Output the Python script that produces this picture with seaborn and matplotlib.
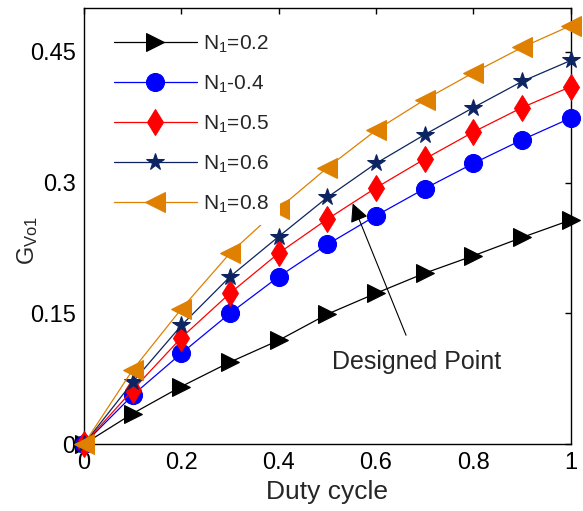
import numpy as np
import pandas as pd
import matplotlib
matplotlib.use("Agg")
import matplotlib.pyplot as plt
import seaborn as sns

# Values
duty = [0, 0.1, 0.2, 0.3, 0.4, 0.5, 0.6, 0.7, 0.8, 0.9, 1.0]
g_n02 = [0, 0.035, 0.066, 0.094, 0.119, 0.149, 0.173, 0.196, 0.216, 0.237, 0.257]
g_n04 = [0, 0.056, 0.104, 0.150, 0.192, 0.229, 0.262, 0.293, 0.322, 0.349, 0.374]
g_n05 = [0, 0.062, 0.122, 0.173, 0.219, 0.258, 0.294, 0.327, 0.358, 0.386, 0.410]
g_n06 = [0, 0.071, 0.136, 0.192, 0.238, 0.283, 0.322, 0.355, 0.386, 0.416, 0.440]
g_n08 = [0, 0.085, 0.155, 0.219, 0.270, 0.317, 0.360, 0.395, 0.426, 0.455, 0.480]
labels = ["N$_1$=0.2", "N$_1$-0.4", "N$_1$=0.5", "N$_1$=0.6", "N$_1$=0.8"]

x_ticks = [0, 0.2, 0.4, 0.6, 0.8, 1]
x_ticklabels = ["0", "0.2", "0.4", "0.6", "0.8", "1"]
y_ticks = [0, 0.15, 0.3, 0.45]
y_ticklabels = ["0", "0.15", "0.3", "0.45"]

design_xy = (0.552, 0.276)
design_text_xy = (0.684, 0.094)

sns.set_style("white")
plt.rcParams["font.family"] = ["Liberation Sans", "DejaVu Sans"]
plt.rcParams["mathtext.default"] = "regular"

fig = plt.figure(figsize=(5.83, 5.11), dpi=100)
ax = fig.add_axes([0.144, 0.131, 0.835, 0.853])

series = [g_n02, g_n04, g_n05, g_n06, g_n08]
colours = ["black", "#0000ff", "#ff0000", "#0c2461", "#df8000"]
markers = [">", "o", "d", "*", "<"]
sizes = [13, 13, 13, 13, 14]

for vals, lab, col, mk, ms in zip(series, labels, colours, markers, sizes):
    sns.lineplot(x=duty, y=vals, ax=ax, color=col, marker=mk, markersize=ms,
                 markeredgecolor=col, markerfacecolor=col, linewidth=0.9,
                 label=lab, clip_on=False, zorder=3)

ax.set_xlim(0, 1)
ax.set_ylim(0, 0.5)
ax.set_xticks(x_ticks)
ax.set_xticklabels(x_ticklabels)
ax.set_yticks(y_ticks)
ax.set_yticklabels(y_ticklabels)
ax.tick_params(direction="in", top=True, right=True, length=4, width=1,
               labelsize=17, colors="black", pad=6)
for sp in ax.spines.values():
    sp.set_visible(True)
    sp.set_color("black")
    sp.set_linewidth(1)

ax.set_xlabel("Duty cycle", fontsize=19, labelpad=4)
ax.set_ylabel("G$_{Vo1}$", fontsize=17, va="center")
ax.yaxis.set_label_coords(-0.115, 0.468)

ax.annotate("Designed Point", xy=design_xy, xytext=design_text_xy,
            textcoords="data", fontsize=18, ha="center", va="center",
            arrowprops=dict(arrowstyle="-|>", color="black", lw=0.8,
                            mutation_scale=28, shrinkA=9, shrinkB=0),
            zorder=5)

leg = ax.legend(loc="upper left", bbox_to_anchor=(0.027, 0.98), fontsize=15,
                frameon=True, fancybox=False, framealpha=1, facecolor="white",
                edgecolor="none", handlelength=4.0, handletextpad=0.3,
                labelspacing=0.9, borderpad=0.5, borderaxespad=0.3)
leg.set_zorder(4)

fig.savefig("out.png", dpi=100)
